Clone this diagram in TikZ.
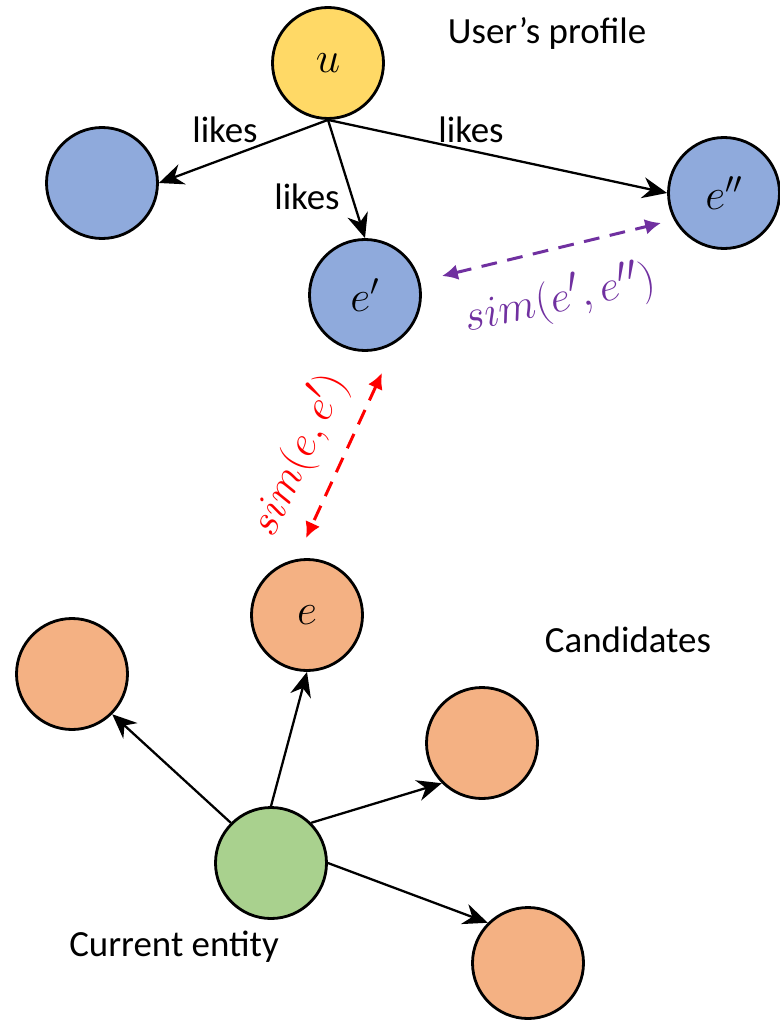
\documentclass[tikz,border=0pt]{standalone}
\usepackage{fontspec}
\setmainfont{Carlito}
\usetikzlibrary{arrows.meta}
\definecolor{usery}{HTML}{FFD966}
\definecolor{likedb}{HTML}{8FAADC}
\definecolor{cando}{HTML}{F4B183}
\definecolor{curg}{HTML}{A9D18E}
\definecolor{simp}{HTML}{7030A0}
\begin{document}
\begin{tikzpicture}[font=\fontsize{21}{25}\selectfont, line join=round, >={Stealth[length=14pt,width=12pt]},
	ent/.style={circle, draw, line width=1.6pt, minimum size=2.22cm, inner sep=0pt, font=\fontsize{27}{30}\selectfont},
	rel/.style={->, line width=1.3pt},
	simarr/.style={{Latex[length=9pt,width=9pt]}-{Latex[length=9pt,width=9pt]}, dash pattern=on 9pt off 6pt, line width=1.7pt},
	simlab/.style={font=\fontsize{30}{33}\selectfont}]
	\useasboundingbox (0,0) rectangle (15.6,-20.42);
	% user side
	\node[ent, fill=usery] (u) at (6.56,-1.26) {$u$};
	\node[ent, fill=likedb] (l1) at (2.04,-3.66) {};
	\node[ent, fill=likedb] (e2) at (14.48,-3.86) {$e''$};
	\node[ent, fill=likedb] (e1) at (7.30,-5.90) {$e'$};
	\node (up) at (10.94,-0.66) {User’s profile};
	\draw[rel] (u.south) -- (l1.east);
	\draw[rel] (u.south) -- (e1.north);
	\draw[rel] (u.south) -- (e2.west);
	\node (lk1) at (4.50,-2.60) {likes};
	\node (lk2) at (9.42,-2.60) {likes};
	\node (lk3) at (6.14,-3.94) {likes};
	% candidates
	\node[ent, fill=cando] (e) at (6.14,-12.30) {$e$};
	\node[ent, fill=cando] (c1) at (1.44,-13.48) {};
	\node[ent, fill=cando] (c2) at (9.64,-14.86) {};
	\node[ent, fill=cando] (c3) at (10.56,-19.26) {};
	\node[ent, fill=curg] (cur) at (5.42,-17.26) {};
	\node (cand) at (12.56,-12.80) {Candidates};
	\node (curl) at (3.48,-18.94) {Current entity};
	\draw[rel] (cur.north west) -- (c1.south east);
	\draw[rel] (cur.north) -- (e.south);
	\draw[rel] (cur.north east) -- (c2.south west);
	\draw[rel] (cur.east) -- (c3.north west);
	% similarities
	\coordinate (s1a) at (8.84,-5.52);
	\coordinate (s1b) at (13.22,-4.46);
	\coordinate (s2a) at (7.64,-7.46);
	\coordinate (s2b) at (6.12,-10.76);
	\draw[simarr, simp] (s1a) -- (s1b);
	\draw[simarr, red] (s2a) -- (s2b);
	\node[simlab, text=simp, rotate=12] (sim1) at (11.20,-5.98) {$sim(e',e'')$};
	\node[simlab, text=red, rotate=65] (sim2) at (5.98,-9.10) {$sim(e,e')$};
\end{tikzpicture}
\end{document}
